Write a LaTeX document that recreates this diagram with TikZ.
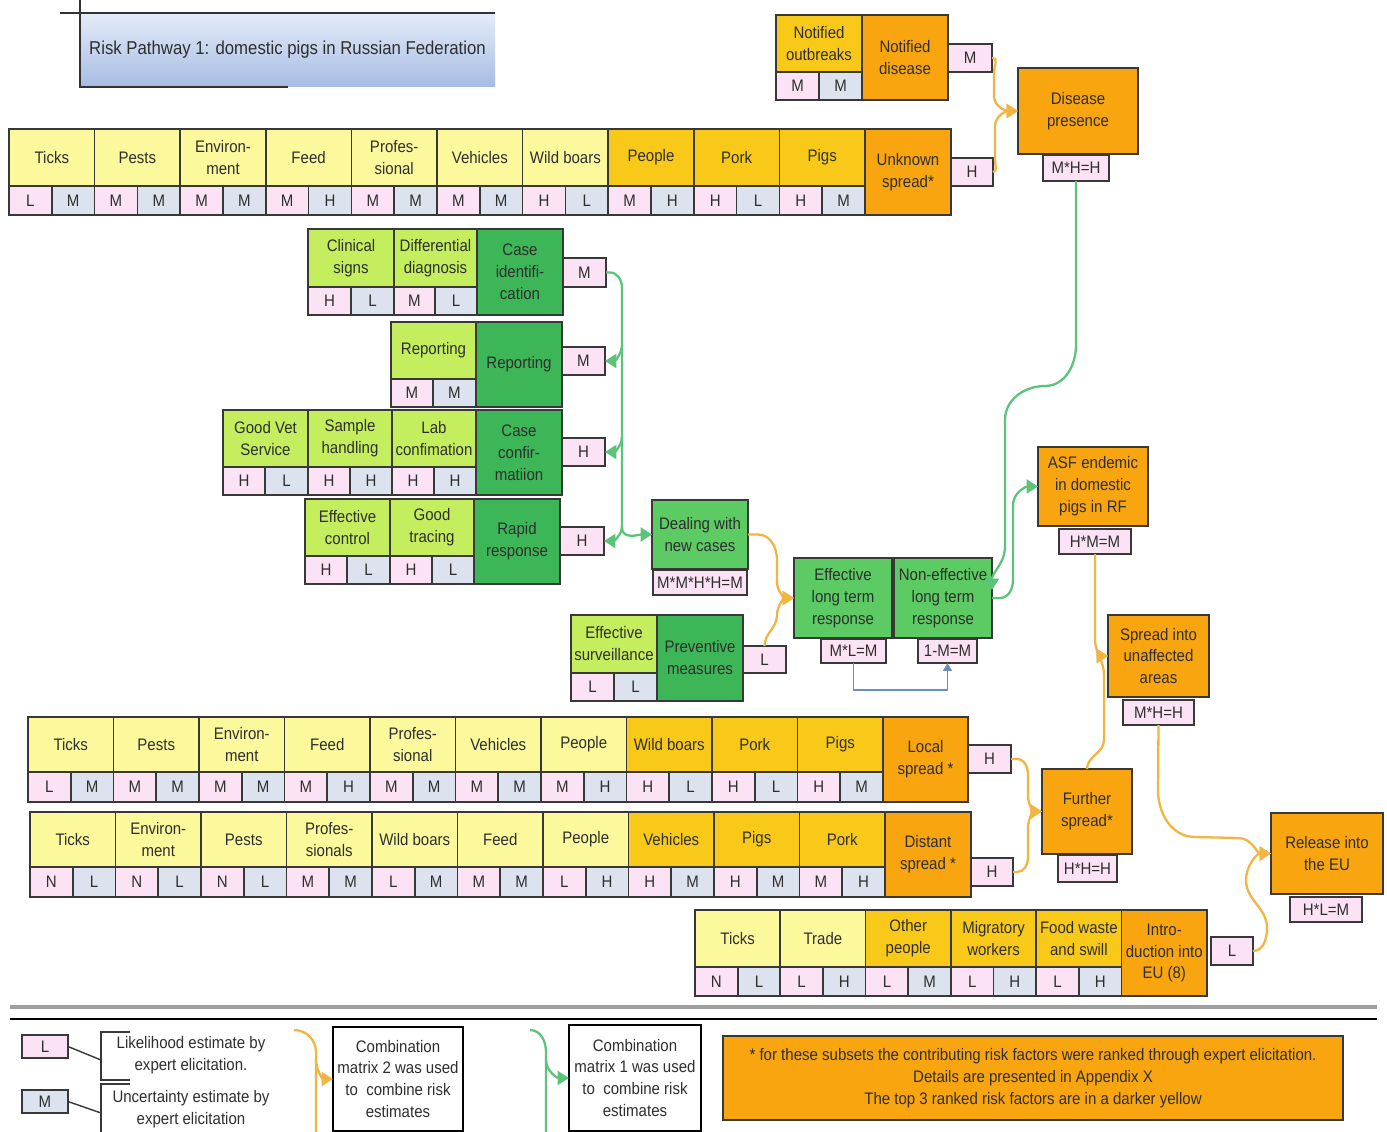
\documentclass[tikz,border=0pt]{standalone}
\usepackage{fontspec}
\setmainfont{Liberation Sans}[FakeStretch=0.9]
\usetikzlibrary{arrows.meta}

\definecolor{ly}{HTML}{FCF89C}
\definecolor{dy}{HTML}{F9C91A}
\definecolor{orng}{HTML}{F9A510}
\definecolor{pk}{HTML}{FBE3F5}
\definecolor{bgr}{HTML}{DDE3EE}
\definecolor{lgr}{HTML}{C5EE5E}
\definecolor{dgr}{HTML}{3DB657}
\definecolor{mgr}{HTML}{5DCB63}
\definecolor{linkor}{HTML}{F2B542}
\definecolor{linkgr}{HTML}{5BC47A}
\definecolor{linkbl}{HTML}{6C8DC0}
\definecolor{edge}{HTML}{383838}
\definecolor{ink}{HTML}{2E2E2E}
\definecolor{tbtop}{HTML}{E4ECF8}
\definecolor{tbbot}{HTML}{A7BCE3}

\newcommand\diafont{\fontsize{9.5}{12.5}\selectfont}
\newcommand\ttlfont{\fontsize{10.6}{13}\selectfont}
\def\pu{0.02cm}

\tikzset{
  box/.style={draw=edge, line width=1pt, anchor=north west, inner sep=0pt,
    outer sep=0pt, align=center, font=\diafont, text=ink},
  txt/.style={align=center, font=\diafont, text=ink, inner sep=0pt},
  ylink/.style={draw=linkor, line width=1.3pt},
  glink/.style={draw=linkgr, line width=1.3pt},
  yarr/.style={ylink, -{Triangle[length=6.5pt,width=8pt]}},
  garr/.style={glink, -{Triangle[length=6.5pt,width=8pt]}},
  blink/.style={draw=linkbl, line width=1pt, -{Triangle[length=4.5pt,width=5pt]}},
}

% box: name, style, x1, y1, x2, y2, text (pixel-like units, y downwards)
\newcommand\bx[7]{\node[box,#2,minimum width={(#5-#3)*\pu},minimum height={(#6-#4)*\pu}] (#1) at (#3,#4) {#7};}

% row of risk factors: prefix, x0, column width, y top, y middle, y bottom, items
\newcommand\frow[7]{%
  \foreach[count=\i from 0] \lab/\lv/\uv/\fc in {#7}{%
    \pgfmathsetmacro\xa{#2+\i*#3}%
    \pgfmathsetmacro\xm{\xa+#3/2}%
    \pgfmathsetmacro\xb{\xa+#3}%
    \bx{#1\i}{fill=\fc}{\xa}{#4}{\xb}{#5}{\lab}%
    \bx{#1\i-l}{fill=pk}{\xa}{#5}{\xm}{#6}{\lv}%
    \bx{#1\i-u}{fill=bgr}{\xm}{#5}{\xb}{#6}{\uv}%
  }}

\begin{document}
\begin{tikzpicture}[x=0.02cm,y=-0.02cm]
\fill[white] (0,0) rectangle (1387,1132);
\useasboundingbox (0,0) rectangle (1387,1132);

% title
\bx{title}{draw=none,top color=tbtop,bottom color=tbbot,font=\ttlfont}{80}{13}{495}{87}{Risk Pathway 1: domestic pigs in Russian Federation}
\draw[line width=1.1pt, black!80] (60,13) -- (495,13);
\draw[line width=1.1pt, black!80] (80,0) -- (80,87) -- (288,87);

% unknown spread
\frow{ra}{9}{85.6}{129}{186}{215}{Ticks/L/M/ly, Pests/M/M/ly, {Environ-\\ment}/M/M/ly, Feed/M/H/ly, {Profes-\\sional}/M/M/ly, Vehicles/M/M/ly, Wild boars/H/L/ly, People/M/H/dy, Pork/H/L/dy, Pigs/H/M/dy}
\bx{us}{fill=orng}{865}{129}{951}{215}{Unknown\\spread*}
\bx{usv}{fill=pk}{951}{158}{993}{186}{H}

% notified disease
\bx{no}{fill=dy}{776}{15}{862}{72}{Notified\\outbreaks}
\bx{no-l}{fill=pk}{776}{72}{819}{100}{M}
\bx{no-u}{fill=bgr}{819}{72}{862}{100}{M}
\bx{nd}{fill=orng}{862}{15}{948}{100}{Notified\\disease}
\bx{ndv}{fill=pk}{948}{44}{992}{72}{M}

\bx{dp}{fill=orng}{1018}{68}{1138}{154}{Disease\\presence}
\bx{dpv}{fill=pk}{1043}{155}{1109}{181}{M*H=H}

% control chain
\bx{cs}{fill=lgr}{308}{229}{394}{287}{Clinical\\signs}
\bx{cs-l}{fill=pk}{308}{287}{351}{315}{H}
\bx{cs-u}{fill=bgr}{351}{287}{394}{315}{L}
\bx{dd}{fill=lgr}{394}{229}{477}{287}{Differential\\diagnosis}
\bx{dd-l}{fill=pk}{394}{287}{435}{315}{M}
\bx{dd-u}{fill=bgr}{435}{287}{477}{315}{L}
\bx{ci}{fill=dgr}{477}{229}{563}{315}{Case\\identifi-\\cation}
\bx{civ}{fill=pk}{563}{258}{606}{287}{M}

\bx{rf}{fill=lgr}{391}{322}{476}{379}{Reporting}
\bx{rf-l}{fill=pk}{391}{379}{433}{407}{M}
\bx{rf-u}{fill=bgr}{433}{379}{476}{407}{M}
\bx{rp}{fill=dgr}{476}{322}{562}{407}{Reporting}
\bx{rpv}{fill=pk}{562}{347}{605}{375}{M}

\bx{gv}{fill=lgr}{223}{410}{308}{467}{Good Vet\\Service}
\bx{gv-l}{fill=pk}{223}{467}{265}{495}{H}
\bx{gv-u}{fill=bgr}{265}{467}{308}{495}{L}
\bx{sh}{fill=lgr}{308}{410}{392}{467}{Sample\\handling}
\bx{sh-l}{fill=pk}{308}{467}{350}{495}{H}
\bx{sh-u}{fill=bgr}{350}{467}{392}{495}{H}
\bx{lc}{fill=lgr}{392}{410}{476}{467}{Lab\\confimation}
\bx{lc-l}{fill=pk}{392}{467}{434}{495}{H}
\bx{lc-u}{fill=bgr}{434}{467}{476}{495}{H}
\bx{cc}{fill=dgr}{476}{410}{562}{495}{Case\\confir-\\matiion}
\bx{ccv}{fill=pk}{562}{438}{605}{466}{H}

\bx{ec}{fill=lgr}{305}{499}{390}{556}{Effective\\control}
\bx{ec-l}{fill=pk}{305}{556}{347}{584}{H}
\bx{ec-u}{fill=bgr}{347}{556}{390}{584}{L}
\bx{gt}{fill=lgr}{390}{499}{474}{556}{Good\\tracing}
\bx{gt-l}{fill=pk}{390}{556}{432}{584}{H}
\bx{gt-u}{fill=bgr}{432}{556}{474}{584}{L}
\bx{rr}{fill=dgr}{474}{499}{560}{584}{Rapid\\response}
\bx{rrv}{fill=pk}{560}{527}{604}{555}{H}

\bx{dnc}{fill=mgr}{652}{500}{748}{569}{Dealing with\\new cases}
\bx{dncv}{fill=pk}{653}{570}{747}{595}{M*M*H*H=M}

\bx{es}{fill=lgr}{571}{615}{657}{673}{Effective\\surveillance}
\bx{es-l}{fill=pk}{571}{673}{614}{701}{L}
\bx{es-u}{fill=bgr}{614}{673}{657}{701}{L}
\bx{pm}{fill=dgr}{657}{615}{743}{701}{Preventive\\measures}
\bx{pmv}{fill=pk}{743}{646}{786}{673}{L}

\bx{elt}{fill=mgr}{794}{558}{892}{638}{Effective\\long term\\response}
\bx{eltv}{fill=pk}{821}{639}{886}{663}{M*L=M}
\bx{nlt}{fill=mgr}{894}{558}{992}{638}{Non-effective\\long term\\response}
\bx{nltv}{fill=pk}{918}{639}{977}{663}{1-M=M}

% outcomes
\bx{asf}{fill=orng}{1038}{447}{1148}{526}{ASF endemic\\in domestic\\pigs in RF}
\bx{asfv}{fill=pk}{1059}{529}{1131}{554}{H*M=M}
\bx{sua}{fill=orng}{1108}{615}{1209}{697}{Spread into\\unaffected\\areas}
\bx{suav}{fill=pk}{1123}{700}{1194}{725}{M*H=H}
\bx{fs}{fill=orng}{1042}{769}{1132}{854}{Further\\spread*}
\bx{fsv}{fill=pk}{1058}{855}{1117}{882}{H*H=H}
\bx{rel}{fill=orng}{1271}{813}{1383}{894}{Release into\\the EU}
\bx{relv}{fill=pk}{1290}{897}{1362}{922}{H*L=M}

% local and distant spread
\frow{rc}{28}{85.5}{717}{772}{802}{Ticks/L/M/ly, Pests/M/M/ly, {Environ-\\ment}/M/M/ly, Feed/M/H/ly, {Profes-\\sional}/M/M/ly, Vehicles/M/M/ly, People/M/H/ly, Wild boars/H/L/dy, Pork/H/L/dy, Pigs/H/M/dy}
\bx{ls}{fill=orng}{883}{717}{968}{802}{Local\\spread *}
\bx{lsv}{fill=pk}{968}{745}{1011}{773}{H}

\frow{rd}{30}{85.5}{812}{867}{897}{Ticks/N/L/ly, {Environ-\\ment}/N/L/ly, Pests/N/L/ly, {Profes-\\sionals}/M/M/ly, Wild boars/L/M/ly, Feed/M/M/ly, People/L/H/ly, Vehicles/H/M/dy, Pigs/H/M/dy, Pork/M/H/dy}
\bx{ds}{fill=orng}{885}{812}{971}{897}{Distant\\spread *}
\bx{dsv}{fill=pk}{971}{858}{1013}{886}{H}

% introduction into the EU
\frow{re}{695}{85.3}{910}{967}{996}{Ticks/N/L/ly, Trade/L/H/ly, {Other\\people}/L/M/dy, {Migratory\\workers}/L/H/dy, {Food waste\\and swill}/L/H/dy}
\bx{ie}{fill=orng}{1121.5}{910}{1207}{996}{Intro-\\duction into\\EU (8)}
\bx{iev}{fill=pk}{1211}{937}{1253}{965}{L}

% connectors
\draw[yarr] (ndv.east) -- ++(1,0) to[out=0,in=90] (994,72) -- (994,96) to[out=-90,in=180] (dp.west);
\draw[yarr] (usv.east) to[out=0,in=-90] (995,160) -- (995,126) to[out=90,in=180] (dp.west);

\draw[glink] (civ.east) -- ++(4,0) to[out=0,in=90] (622,288) -- (622,530);
\draw[garr] (622,345) to[out=-90,in=0] (rpv.east);
\draw[garr] (622,437) to[out=-90,in=0] (ccv.east);
\draw[garr] (622,526) to[out=-90,in=0] (rrv.east);
\draw[garr] (622,528) to[out=-90,in=180] (dnc.west);

\draw[yarr] (dnc.east) -- ++(10,0) to[out=0,in=90] (777,560) -- (777,582) to[out=-90,in=180] (elt.west);
\draw[yarr] (pmv.north) to[out=90,in=-90] (777,615) to[out=90,in=180] (elt.west);
\draw[blink] (eltv.south) -- ++(0,27) -| (nltv.south);

\draw[garr] (dpv.south) -- (1076,345) to[out=-90,in=0] (1045,386) to[out=180,in=90] (1005,420) -- (1005,546) to[out=-90,in=90] ([yshift=-0.64cm]nlt.north east);
\draw[garr] (nlt.east) -- ++(8,0) to[out=0,in=-90] (1013,580) -- (1013,505) to[out=90,in=180] (asf.west);

\draw[yarr] (asfv.south) -- (1095,640) to[out=-90,in=180] (sua.west);
\draw[yarr] (fs.north) to[out=90,in=-90] (1104,740) -- (1104,675) to[out=90,in=180] (sua.west);
\draw[yarr] (lsv.east) -- ++(6,0) to[out=0,in=90] (1028,775) -- (1028,796) to[out=-90,in=180] (fs.west);
\draw[yarr] (dsv.east) -- ++(4,0) to[out=0,in=-90] (1028,858) -- (1028,827) to[out=90,in=180] (fs.west);
\draw[yarr] (suav.south) -- (1158,790) to[out=-90,in=180] (1195,837) -- (1238,838) to[out=0,in=180] (rel.west);
\draw[yarr] (iev.east) to[out=0,in=-90] (1267,928) to[out=90,in=-90] (1246,880) to[out=90,in=180] (rel.west);

% separators
\draw[line width=2pt, gray!75] (10,1007) -- (1377,1007);
\draw[line width=1pt, black] (10,1019) -- (1377,1019);

% legend
\bx{lgl}{fill=pk}{22}{1035}{68}{1058}{L}
\bx{lgm}{fill=bgr}{22}{1090}{68}{1113}{M}
\node[txt] (lgt1) at (191,1055) {Likelihood estimate by\\expert elicitation.};
\node[txt] (lgt2) at (191,1109) {Uncertainty estimate by\\expert elicitation};
\draw[edge, line width=0.8pt] (lgl.east) -- (101,1060);
\draw[edge, line width=0.8pt] (lgm.east) -- (101,1113);
\draw[edge, line width=0.8pt] (130,1032) -- (101,1032) -- (101,1080) -- (130,1080);
\draw[edge, line width=0.8pt] (130,1084) -- (101,1084) -- (101,1132);

\bx{cm2}{fill=white,draw=black}{333}{1027}{463}{1131}{Combination\\matrix 2 was used\\to~ combine risk\\estimates}
\bx{cm1}{fill=white,draw=black}{569}{1025}{701}{1131}{Combination\\matrix 1 was used\\to~ combine risk\\estimates}
\draw[ylink] (294,1030) to[out=0,in=90] (316,1052) -- (316,1132);
\draw[yarr] (316,1060) to[out=-90,in=180] (cm2.west);
\draw[glink] (530,1030) to[out=0,in=90] (546,1052) -- (546,1132);
\draw[garr] (546,1060) to[out=-90,in=180] (cm1.west);

\bx{note}{fill=orng}{723}{1036}{1343}{1120}{* for these subsets the contributing risk factors were ranked through expert elicitation.\\Details are presented in Appendix X\\The top 3 ranked risk factors are in a darker yellow}
\end{tikzpicture}
\end{document}
